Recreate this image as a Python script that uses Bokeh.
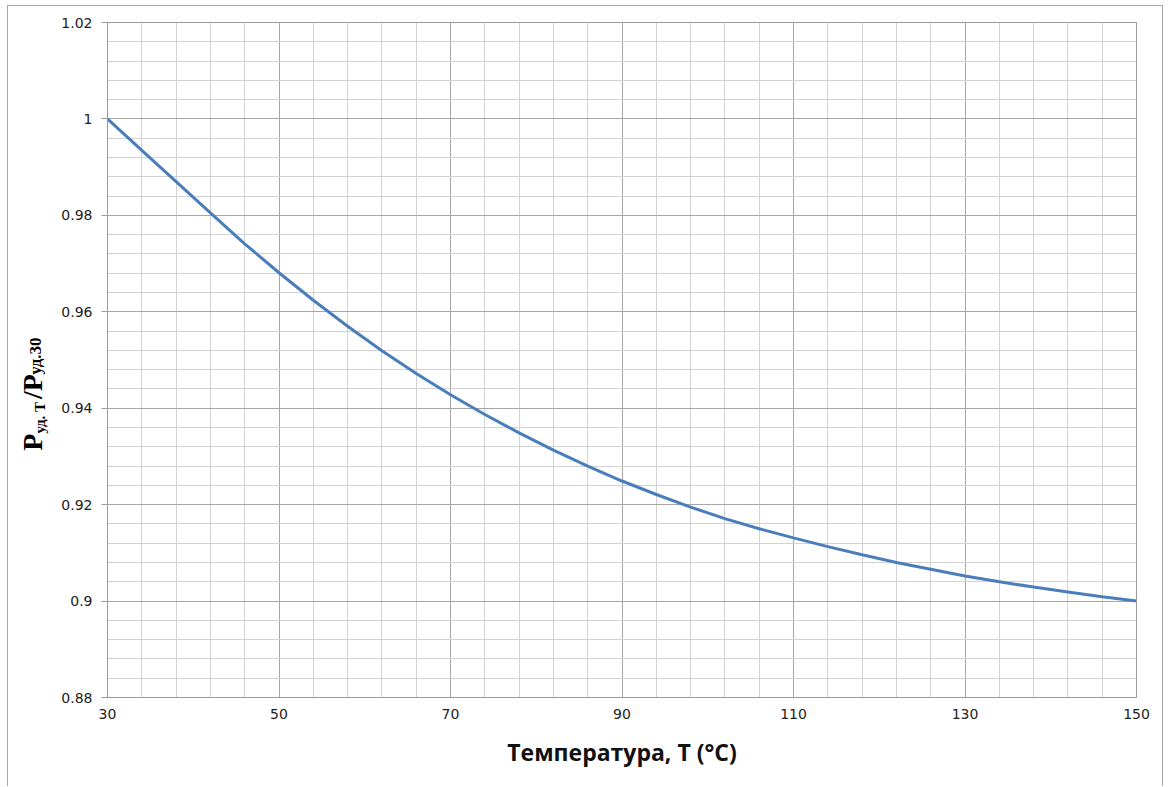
import math
from bokeh.plotting import figure
from bokeh.layouts import row
from bokeh.models import Range1d, FixedTicker
from bokeh.core.properties import value
from bokeh.embed import file_html
from bokeh.resources import INLINE

# ---- data ----
temperature = [30, 34, 38, 42, 46, 50, 54, 58, 62, 66, 70, 74, 78, 82, 86, 90,
               94, 98, 102, 106, 110, 114, 118, 122, 126, 130, 134, 138, 142, 146, 150]
power_ratio = [1.0000, 0.9935, 0.9870, 0.9805, 0.9741, 0.9681, 0.9624, 0.9570,
               0.9519, 0.9472, 0.9428, 0.9387, 0.9349, 0.9313, 0.9280, 0.9249,
               0.9221, 0.9195, 0.9171, 0.9150, 0.9131, 0.9113, 0.9096, 0.9080,
               0.9066, 0.9052, 0.9040, 0.9029, 0.9019, 0.9009, 0.9000]

x_tick_values = [30, 50, 70, 90, 110, 130, 150]
x_tick_labels = ["30", "50", "70", "90", "110", "130", "150"]
x_minor_values = list(range(30, 151, 4))
y_tick_values = [0.88, 0.9, 0.92, 0.94, 0.96, 0.98, 1.0, 1.02]
y_tick_labels = ["0.88", "0.9", "0.92", "0.94", "0.96", "0.98", "1", "1.02"]
y_minor_values = [round(0.88 + 0.004 * i, 3) for i in range(36)]

x_title = "Температура, T (°C)"
y_title_parts = ["P", "уд. T", "/P", "уд.30"]

H = 780          # canvas height of both panels
LEFT_W = 50      # width of the panel holding the rotated y title
MAIN_W = 1104

# ---- main figure ----
p = figure(width=MAIN_W, height=H,
           x_range=Range1d(30, 150), y_range=Range1d(0.88, 1.02),
           output_backend="svg", toolbar_location=None,
           min_border_left=49, min_border_right=26,
           min_border_top=16, min_border_bottom=89)
p.background_fill_color = "white"
p.border_fill_color = "white"
p.outline_line_color = "#9a9a9a"
p.outline_line_width = 1

p.xgrid.ticker = FixedTicker(ticks=x_tick_values, minor_ticks=x_minor_values)
p.ygrid.ticker = FixedTicker(ticks=y_tick_values, minor_ticks=y_minor_values)
for g in (p.xgrid, p.ygrid):
    g.grid_line_color = "#a6a6a6"
    g.grid_line_width = 1
    g.minor_grid_line_color = "#d2d2d2"
    g.minor_grid_line_width = 1

p.xaxis.ticker = FixedTicker(ticks=x_tick_values)
p.yaxis.ticker = FixedTicker(ticks=y_tick_values)
p.xaxis.major_label_overrides = dict(zip(x_tick_values, x_tick_labels))
p.yaxis.major_label_overrides = dict(zip(y_tick_values, y_tick_labels))
for ax in (p.xaxis, p.yaxis):
    ax.axis_line_color = "#9a9a9a"
    ax.major_tick_line_color = "#9a9a9a"
    ax.minor_tick_line_color = None
    ax.major_label_text_font = "DejaVu Sans"
    ax.major_label_text_font_size = "14px"
    ax.major_label_text_color = "#222222"
    ax.major_tick_in = 0
p.xaxis.major_tick_out = 0
p.xaxis.major_label_standoff = 11
p.yaxis.major_tick_out = 6
p.yaxis.major_label_standoff = 9

p.xaxis.axis_label = x_title
p.xaxis.axis_label_text_font = "Open Sans"
p.xaxis.axis_label_text_font_style = "bold"
p.xaxis.axis_label_text_font_size = "23px"
p.xaxis.axis_label_text_color = "#111111"
p.xaxis.axis_label_standoff = 14

p.line(temperature, power_ratio, line_color="#4A7EBB", line_width=3)

# ---- left panel: rotated y title with subscripts ----
q = figure(width=LEFT_W, height=H, x_range=Range1d(0, LEFT_W), y_range=Range1d(0, H),
           output_backend="svg", toolbar_location=None,
           x_axis_location=None, y_axis_location=None,
           min_border=0, min_border_left=0, min_border_right=0,
           min_border_top=0, min_border_bottom=0)
q.grid.visible = False
q.outline_line_color = None
q.background_fill_color = "white"
q.border_fill_color = "white"

title_x = [24, 31, 24, 27]
title_y = [285, 305, 345, 373]
title_size = ["28px", "15px", "28px", "17px"]
for t, tx, ty, ts in zip(y_title_parts, title_x, title_y, title_size):
    q.text(x=[tx], y=[ty], text=[t], angle=math.pi / 2,
           text_font=value("Liberation Serif"), text_font_style="bold",
           text_font_size=ts, text_color="#000000",
           text_align="left", text_baseline="alphabetic")

layout = row(q, p, spacing=0,
             styles={"border-left": "1px solid #a8a8a8",
                     "border-top": "1px solid #a8a8a8",
                     "border-right": "1px solid #a8a8a8",
                     "margin-left": "7px", "margin-top": "5px"})

open("out.html", "w").write(file_html(layout, INLINE))
